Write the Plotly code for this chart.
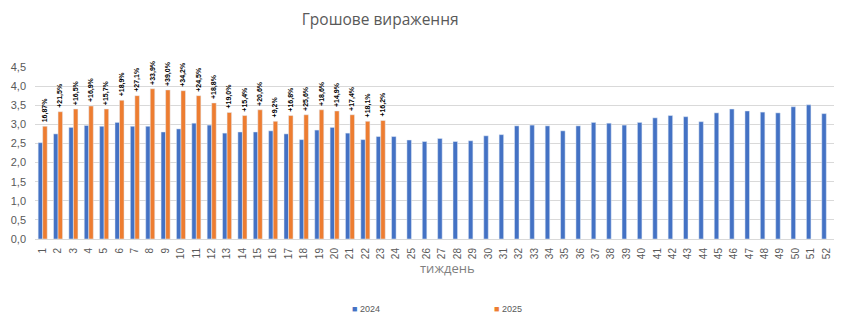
import plotly.graph_objects as go

# Weekly money value by week number
weeks = [str(w) for w in range(1, 53)]

sales_2024 = [2.52, 2.75, 2.92, 2.97, 2.95, 3.05, 2.95, 2.95, 2.80, 2.88,
              3.03, 2.98, 2.77, 2.80, 2.80, 2.83, 2.75, 2.60, 2.85, 2.92,
              2.77, 2.60, 2.68, 2.68, 2.59, 2.55, 2.63, 2.55, 2.57, 2.70,
              2.73, 2.96, 2.98, 2.96, 2.83, 2.96, 3.05, 3.03, 2.98, 3.05,
              3.17, 3.23, 3.20, 3.07, 3.30, 3.40, 3.35, 3.32, 3.30, 3.46,
              3.51, 3.28]

sales_2025 = [2.95, 3.33, 3.40, 3.48, 3.40, 3.63, 3.75, 3.93, 3.90, 3.88,
              3.75, 3.56, 3.31, 3.23, 3.38, 3.08, 3.23, 3.25, 3.38, 3.35,
              3.25, 3.08, 3.10]

growth_labels = ["16,87%", "+21,5%", "+16,5%", "+16,9%", "+15,7%", "+18,9%",
                 "+27,1%", "+33,9%", "+39,0%", "+34,2%", "+24,5%", "+18,8%",
                 "+19,0%", "+15,4%", "+20,6%", "+9,2%", "+16,8%", "+25,6%",
                 "+18,6%", "+14,9%", "+17,4%", "+18,1%", "+16,2%"]

series_names = ["2024", "2025"]

BLUE = "#4472C4"
ORANGE = "#ED7D31"
GREY = "#595959"

fig = go.Figure()

fig.add_trace(go.Bar(
    x=weeks, y=sales_2024, name=series_names[0], marker_color=BLUE,
))
fig.add_trace(go.Bar(
    x=weeks[:len(sales_2025)], y=sales_2025, name=series_names[1],
    marker_color=ORANGE,
    text=growth_labels, texttemplate="&nbsp;&nbsp;%{text}",
    textposition="outside", textangle=-90,
    textfont=dict(size=7, color="#000000", family="Liberation Sans",
                  weight="bold"),
    constraintext="none", cliponaxis=False,
))

fig.update_layout(
    width=850, height=322,
    margin=dict(l=35, r=16, t=67, b=83),
    paper_bgcolor="white", plot_bgcolor="white",
    separators=", ",
    barmode="group", bargap=0.41, bargroupgap=0,
    showlegend=False,
    font=dict(family="Liberation Sans", color=GREY),
    title=dict(
        text="Грошове вираження", x=0.432, xref="paper", xanchor="center",
        y=0.94, yanchor="middle",
        font=dict(size=15.5, color=GREY, family="Open Sans"),
    ),
    xaxis=dict(
        type="category", tickangle=-90, tickfont=dict(size=10, color=GREY),
        showgrid=False, showline=True, linecolor="#d9d9d9", ticks="",
        ticklabelstandoff=4,
    ),
    yaxis=dict(
        range=[0, 4.5], dtick=0.5, tickformat=".1f",
        tickfont=dict(size=11, color=GREY),
        gridcolor="#d9d9d9", zeroline=False, showline=False,
        ticklabelstandoff=8,
    ),
)

fig.add_annotation(
    text="тиждень", x=0.5165, xref="paper", y=-0.17, yref="paper",
    showarrow=False, yanchor="middle",
    font=dict(size=13, color="#7f7f7f", family="Open Sans"),
)

# Legend row below the plot
legend_x = [0.414, 0.592]
for name, color, lx in zip(series_names, [BLUE, ORANGE], legend_x):
    fig.add_annotation(
        text=f'<span style="color:{color}">■</span> {name}',
        x=lx, xref="paper", y=-0.407, yref="paper",
        xanchor="center", yanchor="middle", showarrow=False,
        font=dict(size=9, color=GREY),
    )

fig.write_html("out.html")
